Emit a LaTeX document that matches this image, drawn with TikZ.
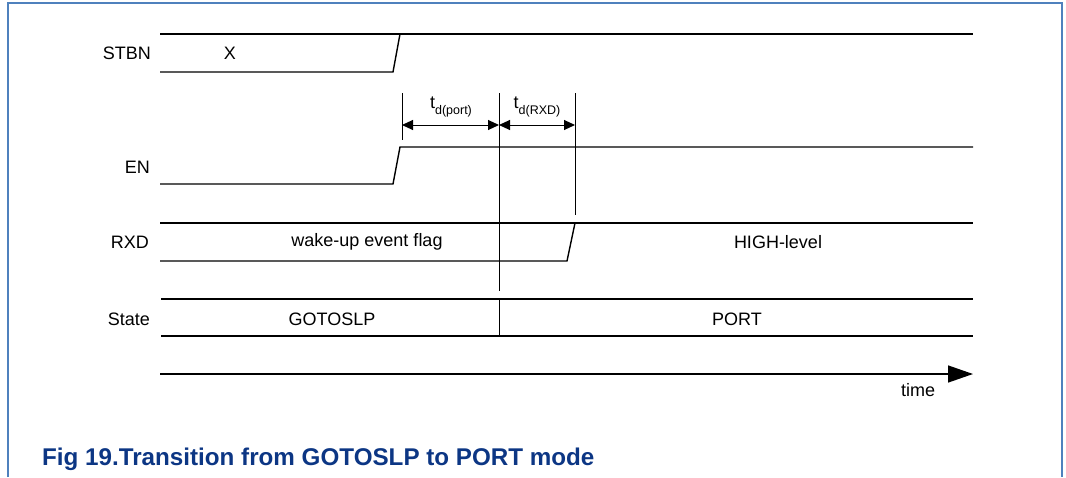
\documentclass[tikz,border=0pt]{standalone}
\usepackage{fontspec}
\setmainfont{Liberation Sans}
\usetikzlibrary{arrows.meta}
\definecolor{framecol}{RGB}{79,129,189}
\definecolor{capcol}{RGB}{12,54,132}
\begin{document}
\begin{tikzpicture}[x=1pt,y=-1pt,
  sig/.style={line width=1.4pt,line join=miter},
  dimline/.style={line width=1pt},
  dimarrow/.style={line width=1pt,{Triangle[length=11pt,width=10pt]}-{Triangle[length=11pt,width=10pt]}},
  siglabel/.style={anchor=east,font=\fontsize{18}{18}\selectfont,inner sep=0pt},
  txt/.style={font=\fontsize{18}{18}\selectfont,inner sep=0pt}]
\useasboundingbox (0,0) rectangle (1066,477);
% page frame
\draw[framecol,line width=1.3pt] (8,477) -- (8,3) -- (1062,3) -- (1062,477);

% signal names
\node[siglabel] (lstbn) at (151,53) {STBN};
\node[siglabel] (len) at (150,167) {EN};
\node[siglabel] (lrxd) at (149,242) {RXD};
\node[siglabel] (lstate) at (150,319) {State};

% STBN: unknown, then high
\draw[sig] (160,34) -- (973,34);
\draw[sig] (160,72) -- (393,72) -- (400,34);
\node[txt] (x) at (230,53) {X};

% EN: low, rising to high
\draw[sig] (160,184) -- (393,184) -- (400,147) -- (973,147);

% RXD: wake-up event flag, then HIGH-level
\draw[sig] (160,223) -- (973,223);
\draw[sig] (160,261) -- (567,261) -- (575,223);
\node[txt] (flag) at (367,242) {wake-up event flag};
\node[txt] (high) at (778,242) {HIGH-level};

% State bus
\draw[sig] (161,299) -- (973,299);
\draw[sig] (161,336) -- (973,336);
\draw[dimline] (499,299) -- (499,336);
\node[txt] (gotoslp) at (332,319) {GOTOSLP};
\node[txt] (port) at (737,319) {PORT};

% timing reference lines
\coordinate (m1top) at (402,93);
\coordinate (m1bot) at (402,140);
\coordinate (m2top) at (499,93);
\coordinate (m2bot) at (499,291);
\coordinate (m3top) at (575,93);
\coordinate (m3bot) at (575,215);
\draw[dimline] (m1top) -- (m1bot);
\draw[dimline] (m2top) -- (m2bot);
\draw[dimline] (m3top) -- (m3bot);

\coordinate (a1) at (402,125);
\coordinate (a2) at (499,125);
\coordinate (a3) at (575,125);
\draw[dimarrow] (a1) -- (a2);
\draw[dimarrow] (a2) -- (a3);
\node[txt] (tport) at (451,107) {t\raisebox{-0.35em}{\fontsize{12.5}{12.5}\selectfont d(port)}};
\node[txt] (trxd) at (537,107) {t\raisebox{-0.35em}{\fontsize{12.5}{12.5}\selectfont d(RXD)}};

% time axis
\coordinate (t0) at (160,374);
\coordinate (t1) at (973,374);
\draw[line width=1.4pt,-{Triangle[length=25pt,width=17pt]}] (t0) -- (t1);
\node[txt] (time) at (918,390) {time};

% caption
\node[anchor=base west,inner sep=0pt,text=capcol,font=\fontsize{24.2}{24.2}\selectfont\bfseries] (cap) at (42,465) {Fig 19.Transition from GOTOSLP to PORT mode};
\end{tikzpicture}
\end{document}
